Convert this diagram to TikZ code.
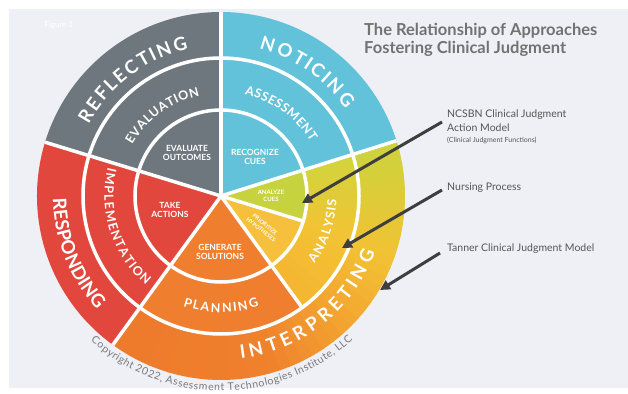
\documentclass[tikz,border=0pt]{standalone}
\usepackage{fontspec}
\setmainfont{Lato}
\usetikzlibrary{decorations.text,arrows.meta}
\definecolor{bgc}{HTML}{EEF0F5}
\definecolor{cgray}{HTML}{6E777D}
\definecolor{cblue}{HTML}{62C2DA}
\definecolor{cred}{HTML}{E2473D}
\definecolor{corange}{HTML}{EF7E2E}
\definecolor{cprior}{HTML}{F6BF3C}
\definecolor{ccues}{HTML}{C6D33E}
\definecolor{or1}{HTML}{EE7A2C}
\definecolor{or2}{HTML}{EF802C}
\definecolor{or3}{HTML}{F3A530}
\definecolor{or4}{HTML}{F2C234}
\definecolor{or5}{HTML}{CCD33C}
\definecolor{an1}{HTML}{F5B532}
\definecolor{an2}{HTML}{F3C234}
\definecolor{an3}{HTML}{D2D43B}
\definecolor{titlec}{HTML}{727272}
\definecolor{labc}{HTML}{555555}
\definecolor{copyc}{HTML}{7A7A7A}
\definecolor{arrc}{HTML}{3E3E3E}
\newcommand\ringsec[5]{\fill[#5] (#3:#1) arc[start angle=#3,end angle=#4,radius=#1] -- (#4:#2) arc[start angle=#4,end angle=#3,radius=#2] -- cycle;}
\newcommand\piesec[4]{\fill[#4] (0,0) -- (#1:#3) arc[start angle=#1,end angle=#2,radius=#3] -- cycle;}
\newcommand\gradsec[7]{%
  \foreach \k in {1,...,#7}{%
    \pgfmathsetmacro\ta{(#3)+((#4)-(#3))*(\k-1)/#7}%
    \pgfmathsetmacro\tb{(#3)+((#4)-(#3))*\k/#7+0.4}%
    \pgfmathtruncatemacro\pp{100-100*(\k-0.5)/#7}%
    \colorlet{tmpc}{#5!\pp!#6}%
    \fill[tmpc] (\ta:#1) arc[start angle=\ta,end angle=\tb,radius=#1] -- (\tb:#2) arc[start angle=\tb,end angle=\ta,radius=#2] -- cycle;
  }}
\newcommand\arctext[6]{%
  \path[decorate, decoration={text effects along path, text={#6},
    text effects/.cd, text along path, fit text to path,
    characters={text=#5, font=#4}}] (#2:#1) arc[start angle=#2, end angle=#3, radius=#1];}
\tikzset{
  sep/.style={white, line width=3.5pt},
  inlab/.style={text=white, align=center, font=\bfseries\fontsize{8.5}{9.5}\selectfont, inner sep=0pt},
  rlab/.style={text=labc, anchor=west, inner sep=0pt, font=\fontsize{10.5}{12}\selectfont},
  arr/.style={arrc, line width=3pt, -{Triangle[length=10pt,width=10pt]}},
}
\begin{document}
\begin{tikzpicture}[x=1pt,y=1pt]
\useasboundingbox (-221,-197) rectangle (407,196);
\fill[white] (-221,-197) rectangle (407,196);
\fill[bgc] (-212,187) rectangle (407,-192);
\node[text=white, font=\fontsize{8}{8}\selectfont, anchor=west] (fig) at (-180,171) {Figure 1};
% outer ring
\ringsec{138}{184}{17.5}{90}{cblue}
\ringsec{138}{184}{90}{163}{cgray}
\ringsec{138}{184}{163}{234}{cred}
\gradsec{138}{184}{-126}{-75}{or1}{or2}{8}
\gradsec{138}{184}{-75}{-45}{or2}{or3}{8}
\gradsec{138}{184}{-45}{-20}{or3}{or4}{8}
\gradsec{138}{184}{-20}{17.5}{or4}{or5}{10}
% middle ring
\ringsec{86}{138}{17.5}{90}{cblue}
\ringsec{86}{138}{90}{163}{cgray}
\ringsec{86}{138}{163}{234}{cred}
\ringsec{86}{138}{-126}{-54}{corange}
\gradsec{86}{138}{-54}{-20}{an1}{an2}{8}
\gradsec{86}{138}{-20}{17.5}{an2}{an3}{8}
% inner
\piesec{17.5}{90}{86}{cblue}
\piesec{90}{163}{86}{cgray}
\piesec{163}{234}{86}{cred}
\piesec{-126}{-54}{86}{corange}
\piesec{-54}{-17}{86}{cprior}
\piesec{-17}{17.5}{86}{ccues}
% separators
\draw[sep] (0,0) circle[radius=86];
\draw[sep] (0,0) circle[radius=138];
\draw[sep] (0,0) -- (90:184);
\draw[sep] (0,0) -- (17.5:184);
\draw[sep] (0,0) -- (163:184);
\draw[sep] (0,0) -- (-126:184);
\draw[sep] (0,0) -- (-54:138);
\draw[sep] (0,0) -- (-17:86);
% outer labels
\arctext{150.5}{151.5}{102.5}{\bfseries\fontsize{18.5}{18.5}\selectfont}{white}{REFLECTING}
\arctext{152}{75.5}{35}{\bfseries\fontsize{18.5}{18.5}\selectfont}{white}{NOTICING}
\arctext{168}{181}{222.5}{\bfseries\fontsize{18.5}{18.5}\selectfont}{white}{RESPONDING}
\arctext{164}{-83}{-20}{\bfseries\fontsize{18.5}{18.5}\selectfont}{white}{INTERPRETING}
% middle labels
\arctext{102.5}{150}{102}{\bfseries\fontsize{12.5}{12.5}\selectfont}{white}{EVALUATION}
\arctext{104.5}{77}{31}{\bfseries\fontsize{12.5}{12.5}\selectfont}{white}{ASSESSMENT}
\arctext{116.5}{166}{230}{\bfseries\fontsize{12.5}{12.5}\selectfont}{white}{IMPLEMENTATION}
\arctext{115.5}{-36}{-2}{\bfseries\fontsize{12.5}{12.5}\selectfont}{white}{ANALYSIS}
\arctext{116.5}{-109}{-71}{\bfseries\fontsize{12.5}{12.5}\selectfont}{white}{PLANNING}
% copyright
\arctext{195}{-132}{-47.5}{\fontsize{10.5}{10.5}\selectfont}{copyc}{Copyright 2022, Assessment Technologies Institute, LLC}
% inner labels
\node[inlab] (evo) at (-34,43) {EVALUATE\\OUTCOMES};
\node[inlab] (rec) at (34,39) {RECOGNIZE\\CUES};
\node[inlab, font=\bfseries\fontsize{6}{7}\selectfont] (anc) at (50,0) {ANALYZE\\CUES};
\node[inlab, font=\bfseries\fontsize{5.5}{6.5}\selectfont, rotate=-38] (prh) at (42,-31) {PRIORITIZE\\HYPOTHESES};
\node[inlab] (tak) at (-51,-14) {TAKE\\ACTIONS};
\node[inlab] (gen) at (-1,-56) {GENERATE\\SOLUTIONS};
% title
\node[anchor=base west, inner sep=0pt, text=titlec, font=\bfseries\fontsize{16.5}{18}\selectfont] (t1) at (143,160) {The Relationship of Approaches};
\node[anchor=base west, inner sep=0pt, text=titlec, font=\bfseries\fontsize{16.5}{18}\selectfont] (t2) at (143,142) {Fostering Clinical Judgment};
% right labels
\node[rlab] (l1) at (226,81) {NCSBN Clinical Judgment};
\node[rlab] (l1b) at (226,68) {Action Model};
\node[rlab, font=\fontsize{7}{8}\selectfont] (l1c) at (226,56) {(Clinical Judgment Functions)};
\node[rlab] (l2) at (226,8) {Nursing Process};
\node[rlab] (l3) at (226,-53) {Tanner Clinical Judgment Model};
% arrows
\coordinate (s1) at (221,74); \coordinate (e1) at (81,-7);
\coordinate (s2) at (221,6); \coordinate (e2) at (121,-52);
\coordinate (s3) at (219,-57); \coordinate (e3) at (159,-94);
\draw[arr] (s1) -- (e1);
\draw[arr] (s2) -- (e2);
\draw[arr] (s3) -- (e3);
\end{tikzpicture}
\end{document}
